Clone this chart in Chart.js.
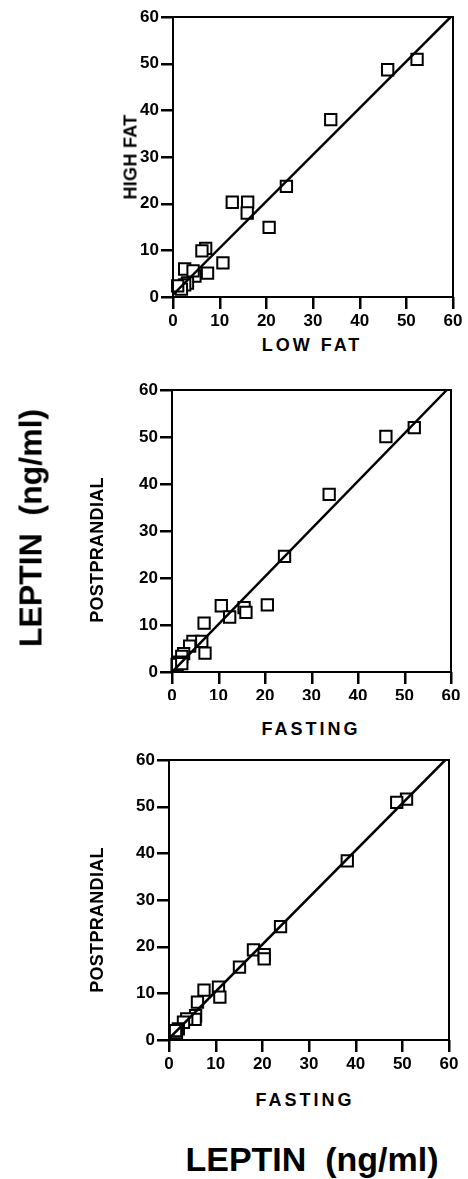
<!DOCTYPE html>
<html>
<head>
<meta charset="utf-8">
<script src="https://cdn.jsdelivr.net/npm/chart.js@4.4.0/dist/chart.umd.min.js"></script>
<style>
  body { margin: 0; background: #fff; width: 468px; height: 1179px; position: relative; overflow: hidden; }
  .pane { position: absolute; left: 0; }
  .lbl { position: absolute; font-family: "Liberation Sans", Arial, sans-serif; font-weight: bold; color: #000; white-space: pre; }
  .rot { transform: translate(-50%, -50%) rotate(-90deg); }
  .hor { transform: translate(-50%, -50%); }
</style>
</head>
<body>
<div class="pane" style="top:0px"><canvas id="chartA" width="468" height="330"></canvas></div>
<div class="pane" style="top:360px"><canvas id="chartB" width="468" height="340"></canvas></div>
<div class="pane" style="top:740px"><canvas id="chartC" width="468" height="330"></canvas></div>

<div class="lbl rot" style="left:31px; top:528px; font-size:32px;">LEPTIN  (ng/ml)</div>
<div class="lbl hor" style="left:312px; top:1159px; font-size:34px;">LEPTIN  (ng/ml)</div>

<div class="lbl rot" style="left:131px; top:157px; font-size:18px; letter-spacing:0.3px;">HIGH FAT</div>
<div class="lbl hor" style="left:312px; top:345px; font-size:18px; letter-spacing:3px;">LOW FAT</div>
<div class="lbl rot" style="left:97px; top:550px; font-size:18px; letter-spacing:0.3px;">POSTPRANDIAL</div>
<div class="lbl hor" style="left:311px; top:729px; font-size:18px; letter-spacing:3px;">FASTING</div>
<div class="lbl rot" style="left:97px; top:920px; font-size:18px; letter-spacing:0.3px;">POSTPRANDIAL</div>
<div class="lbl hor" style="left:305px; top:1100px; font-size:18px; letter-spacing:3px;">FASTING</div>

<script>
// panel A: low fat vs high fat
var aLowFat  = [52.3, 46.0, 33.8, 24.3, 12.7, 16.0, 15.9, 20.6, 7.0, 6.2, 10.7, 7.4, 4.7, 2.5, 4.3, 3.1, 2.5, 1.8, 1.0];
var aHighFat = [50.9, 48.7, 38.0, 23.7, 20.3, 20.3, 18.0, 14.9, 10.4, 9.9, 7.3, 5.1, 4.5, 6.0, 5.6, 3.0, 2.6, 1.7, 2.4];
var aFitX = [0, 59.5];
var aFitY = [0.5, 60];

// panel B: fasting vs postprandial
var bFasting = [52.1, 46.0, 33.8, 24.2, 10.6, 20.5, 15.5, 15.9, 12.4, 6.9, 4.5, 6.4, 7.1, 3.8, 2.5, 2.1, 1.6, 1.1, 2.1];
var bPostpr  = [52.0, 50.1, 37.8, 24.6, 14.1, 14.3, 13.7, 12.7, 11.7, 10.4, 6.5, 6.5, 4.0, 5.5, 3.9, 3.3, 2.1, 1.6, 1.8];
var bFitX = [0, 59.1];
var bFitY = [0, 60];

// panel C: fasting vs postprandial
var cFasting = [50.9, 48.8, 38.2, 23.9, 18.1, 20.4, 20.4, 15.1, 7.5, 10.6, 10.9, 6.1, 5.7, 5.6, 3.8, 3.1, 2.0, 1.6, 1.4];
var cPostpr  = [51.6, 50.9, 38.4, 24.3, 19.3, 18.3, 17.4, 15.6, 10.7, 11.3, 9.2, 8.1, 5.2, 4.4, 4.5, 3.8, 2.4, 1.6, 2.0];
var cFitX = [0, 59.2];
var cFitY = [0.3, 60];

var axisMin = 0;
var axisMax = 60;
var axisStep = 10;
var tickLen = 12;

var tickFont = { family: "'Liberation Sans', Arial, sans-serif", size: 17, weight: 'bold' };

// closed frame round the plot + outward tick marks
var frameBox = {
    id: 'frameBox',
    afterDraw: function(chart) {
        var a = chart.chartArea;
        var ctx = chart.ctx;
        var xs = chart.scales.x, ys = chart.scales.y;
        ctx.save();
        ctx.globalAlpha = 1;
        ctx.setLineDash([]);
        ctx.strokeStyle = '#000';
        ctx.lineWidth = 2;
        ctx.strokeRect(a.left, a.top, a.right - a.left, a.bottom - a.top);
        ctx.fillStyle = '#000';
        for (var v = axisMin; v <= axisMax; v += axisStep) {
            var px = Math.round(xs.getPixelForValue(v));
            var py = Math.round(ys.getPixelForValue(v));
            ctx.fillRect(px - 1, a.bottom, 2.5, tickLen);
            ctx.fillRect(a.left - tickLen, py - 1, tickLen, 2.5);
        }
        ctx.restore();
    }
};

function toPoints(xs, ys) {
    return xs.map(function(x, i) { return { x: x, y: ys[i] }; });
}

function axis(pos, size) {
    return {
        type: 'linear',
        position: pos,
        min: axisMin,
        max: axisMax,
        ticks: { stepSize: axisStep, color: '#000', font: tickFont, padding: 2, maxRotation: 0 },
        grid: { display: true, drawOnChartArea: false, drawTicks: true, tickLength: tickLen, tickColor: '#000', tickWidth: 2, color: '#000', lineWidth: 2 },
        border: { display: true, color: '#000', width: 2 },
        afterFit: function(scale) {
            if (pos === 'left') scale.width = size; else scale.height = size;
        }
    };
}

function drawPanel(id, xs, ys, fitX, fitY, box) {
    var ctx = document.getElementById(id).getContext('2d');
    return new Chart(ctx, {
        type: 'scatter',
        data: {
            datasets: [{
                type: 'line',
                data: toPoints(fitX, fitY),
                borderColor: '#000',
                borderWidth: 2.5,
                pointRadius: 0,
                fill: false,
                order: 0
            }, {
                data: toPoints(xs, ys),
                pointStyle: 'rect',
                pointRadius: 8,
                pointBorderWidth: 2,
                pointBorderColor: '#000',
                pointBackgroundColor: '#fff',
                clip: false,
                order: 1
            }]
        },
        options: {
            responsive: false,
            animation: false,
            layout: { padding: { left: 0, top: box.top, right: box.right, bottom: 0 } },
            plugins: { legend: { display: false }, tooltip: { enabled: false } },
            scales: {
                x: axis('bottom', box.xh),
                y: axis('left', box.yw)
            }
        },
        plugins: [frameBox]
    });
}

drawPanel('chartA', aLowFat, aHighFat, aFitX, aFitY, { top: 17, right: 15, xh: 33, yw: 173 });
drawPanel('chartB', bFasting, bPostpr, bFitX, bFitY, { top: 30, right: 17, xh: 28, yw: 172 });
drawPanel('chartC', cFasting, cPostpr, cFitX, cFitY, { top: 20, right: 19, xh: 30, yw: 169 });
</script>
</body>
</html>
